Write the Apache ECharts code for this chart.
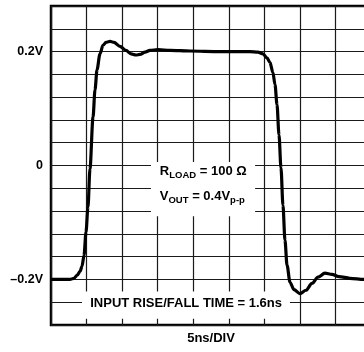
<!DOCTYPE html>
<html>
<head>
<meta charset="utf-8">
<script src="https://cdn.jsdelivr.net/npm/echarts@6/dist/echarts.min.js"></script>
<style>
  html, body { margin: 0; padding: 0; background: #fff; }
  #chart { width: 364px; height: 352px; }
</style>
</head>
<body>
<div id="chart"></div>
<script>
// Output pulse response: time in ns, output voltage in mV
const timeNs = [0, 1.55, 2.67, 3.23, 3.66, 4.08, 4.36, 4.64, 4.92, 5.2, 5.48, 5.91, 6.19, 6.47,
  6.89, 7.31, 7.73, 8.3, 8.86, 9.7, 10.54, 11.25, 11.95, 12.51, 13.22, 13.92, 15.05, 16.73,
  19.54, 23.76, 27.98, 29.1, 29.81, 30.37, 30.79, 31.21, 31.5, 31.78, 32.06, 32.34, 32.62,
  32.9, 33.19, 33.61, 34.17, 35.01, 35.85, 36.7, 37.54, 38.52, 39.51, 40.49, 42.04, 44.01, 45];
const voutMv = [-200, -200, -200, -198, -193, -186, -177, -158, -117, -73, -6, 85, 133, 168,
  196, 211, 216, 218, 216, 209, 202, 196, 194, 195, 199, 202, 203.5, 202,
  201, 200, 200, 199, 196, 189, 181, 163, 142, 107, 54, -4, -70,
  -131, -175, -205, -218, -225, -219, -207, -196, -189, -191, -195, -198, -200, -200];

// Labelled vertical divisions
const yTickValues = [200, 0, -200];
const yTickLabels = ['0.2V', '0', '\u20130.2V'];

const FONT = '"Liberation Sans", Arial, sans-serif';
const chart = echarts.init(document.getElementById('chart'), null, { renderer: 'canvas' });

const seriesData = timeNs.map((t, i) => [t, voutMv[i]]);

chart.setOption({
  animation: false,
  backgroundColor: '#fff',
  grid: {
    left: 51, right: -7, top: 6, bottom: 27,
    containLabel: false, outerBoundsMode: 'none',
    show: true, borderColor: '#000', borderWidth: 2.5, backgroundColor: 'transparent'
  },
  xAxis: {
    type: 'value', min: 0, max: 45, interval: 5,
    axisLine: { show: false }, axisTick: { show: false }, axisLabel: { show: false },
    splitLine: { show: true, lineStyle: { color: '#1a1a1a', width: 1.2 } },
    name: '5ns/DIV', nameLocation: 'middle', nameGap: 7,
    nameTextStyle: { fontFamily: FONT, fontWeight: 'bold', fontSize: 13, color: '#000', verticalAlign: 'top' }
  },
  yAxis: {
    type: 'value', min: -280, max: 280, interval: 40,
    axisLine: { show: false }, axisTick: { show: false },
    axisLabel: {
      margin: 8, fontFamily: FONT, fontWeight: 'bold', fontSize: 12.5, color: '#000',
      formatter: v => {
        const i = yTickValues.indexOf(Math.round(v));
        return i >= 0 ? yTickLabels[i] : '';
      }
    },
    splitLine: { show: true, lineStyle: { color: '#1a1a1a', width: 1.2 } },
    name: '{m|V}{s|OUT}{m| \u201340mV/DIV}',
    nameLocation: 'middle', nameRotate: 90, nameGap: 36,
    nameTextStyle: {
      rich: {
        m: { fontFamily: FONT, fontWeight: 'bold', fontSize: 13, color: '#000', lineHeight: 18, verticalAlign: 'middle' },
        s: { fontFamily: FONT, fontWeight: 'bold', fontSize: 9.5, color: '#000', lineHeight: 18, verticalAlign: 'bottom' }
      }
    }
  },
  series: [{
    type: 'line',
    data: seriesData,
    showSymbol: false,
    smooth: 0.3,
    smoothMonotone: 'x',
    lineStyle: { color: '#000', width: 3.2 },
    z: 5,
    markArea: {
      silent: true,
      itemStyle: { color: '#fff', opacity: 1, borderWidth: 0 },
      label: { show: false },
      emphasis: { disabled: true },
      data: [
        [{ coord: [14.06, 6] }, { coord: [28.7, -89] }],
        [{ coord: [4.36, -221] }, { coord: [33.6, -269] }]
      ]
    }
  }]
});

// Annotation texts inside the blanked areas
const rich = {
  m: { fontFamily: FONT, fontWeight: 'bold', fontSize: 13, fill: '#000', lineHeight: 18, verticalAlign: 'middle' },
  s: { fontFamily: FONT, fontWeight: 'bold', fontSize: 9.5, fill: '#000', lineHeight: 18, verticalAlign: 'bottom' }
};
const p1 = chart.convertToPixel({ gridIndex: 0 }, [15.3, -10]);
const p2 = chart.convertToPixel({ gridIndex: 0 }, [15.3, -54]);
const p3 = chart.convertToPixel({ gridIndex: 0 }, [19, -242]);
chart.setOption({
  graphic: [
    { type: 'text', x: p1[0], y: p1[1], z: 100,
      style: { text: '{m|R}{s|LOAD}{m| = 100 \u03A9}', rich: rich, align: 'left', verticalAlign: 'middle' } },
    { type: 'text', x: p2[0], y: p2[1], z: 100,
      style: { text: '{m|V}{s|OUT}{m| = 0.4V}{s|p-p}', rich: rich, align: 'left', verticalAlign: 'middle' } },
    { type: 'text', x: p3[0], y: p3[1], z: 100,
      style: { text: 'INPUT RISE/FALL TIME = 1.6ns', fontFamily: FONT, fontWeight: 'bold', fontSize: 13,
               fill: '#000', align: 'center', verticalAlign: 'middle' } }
  ]
});
</script>
</body>
</html>
